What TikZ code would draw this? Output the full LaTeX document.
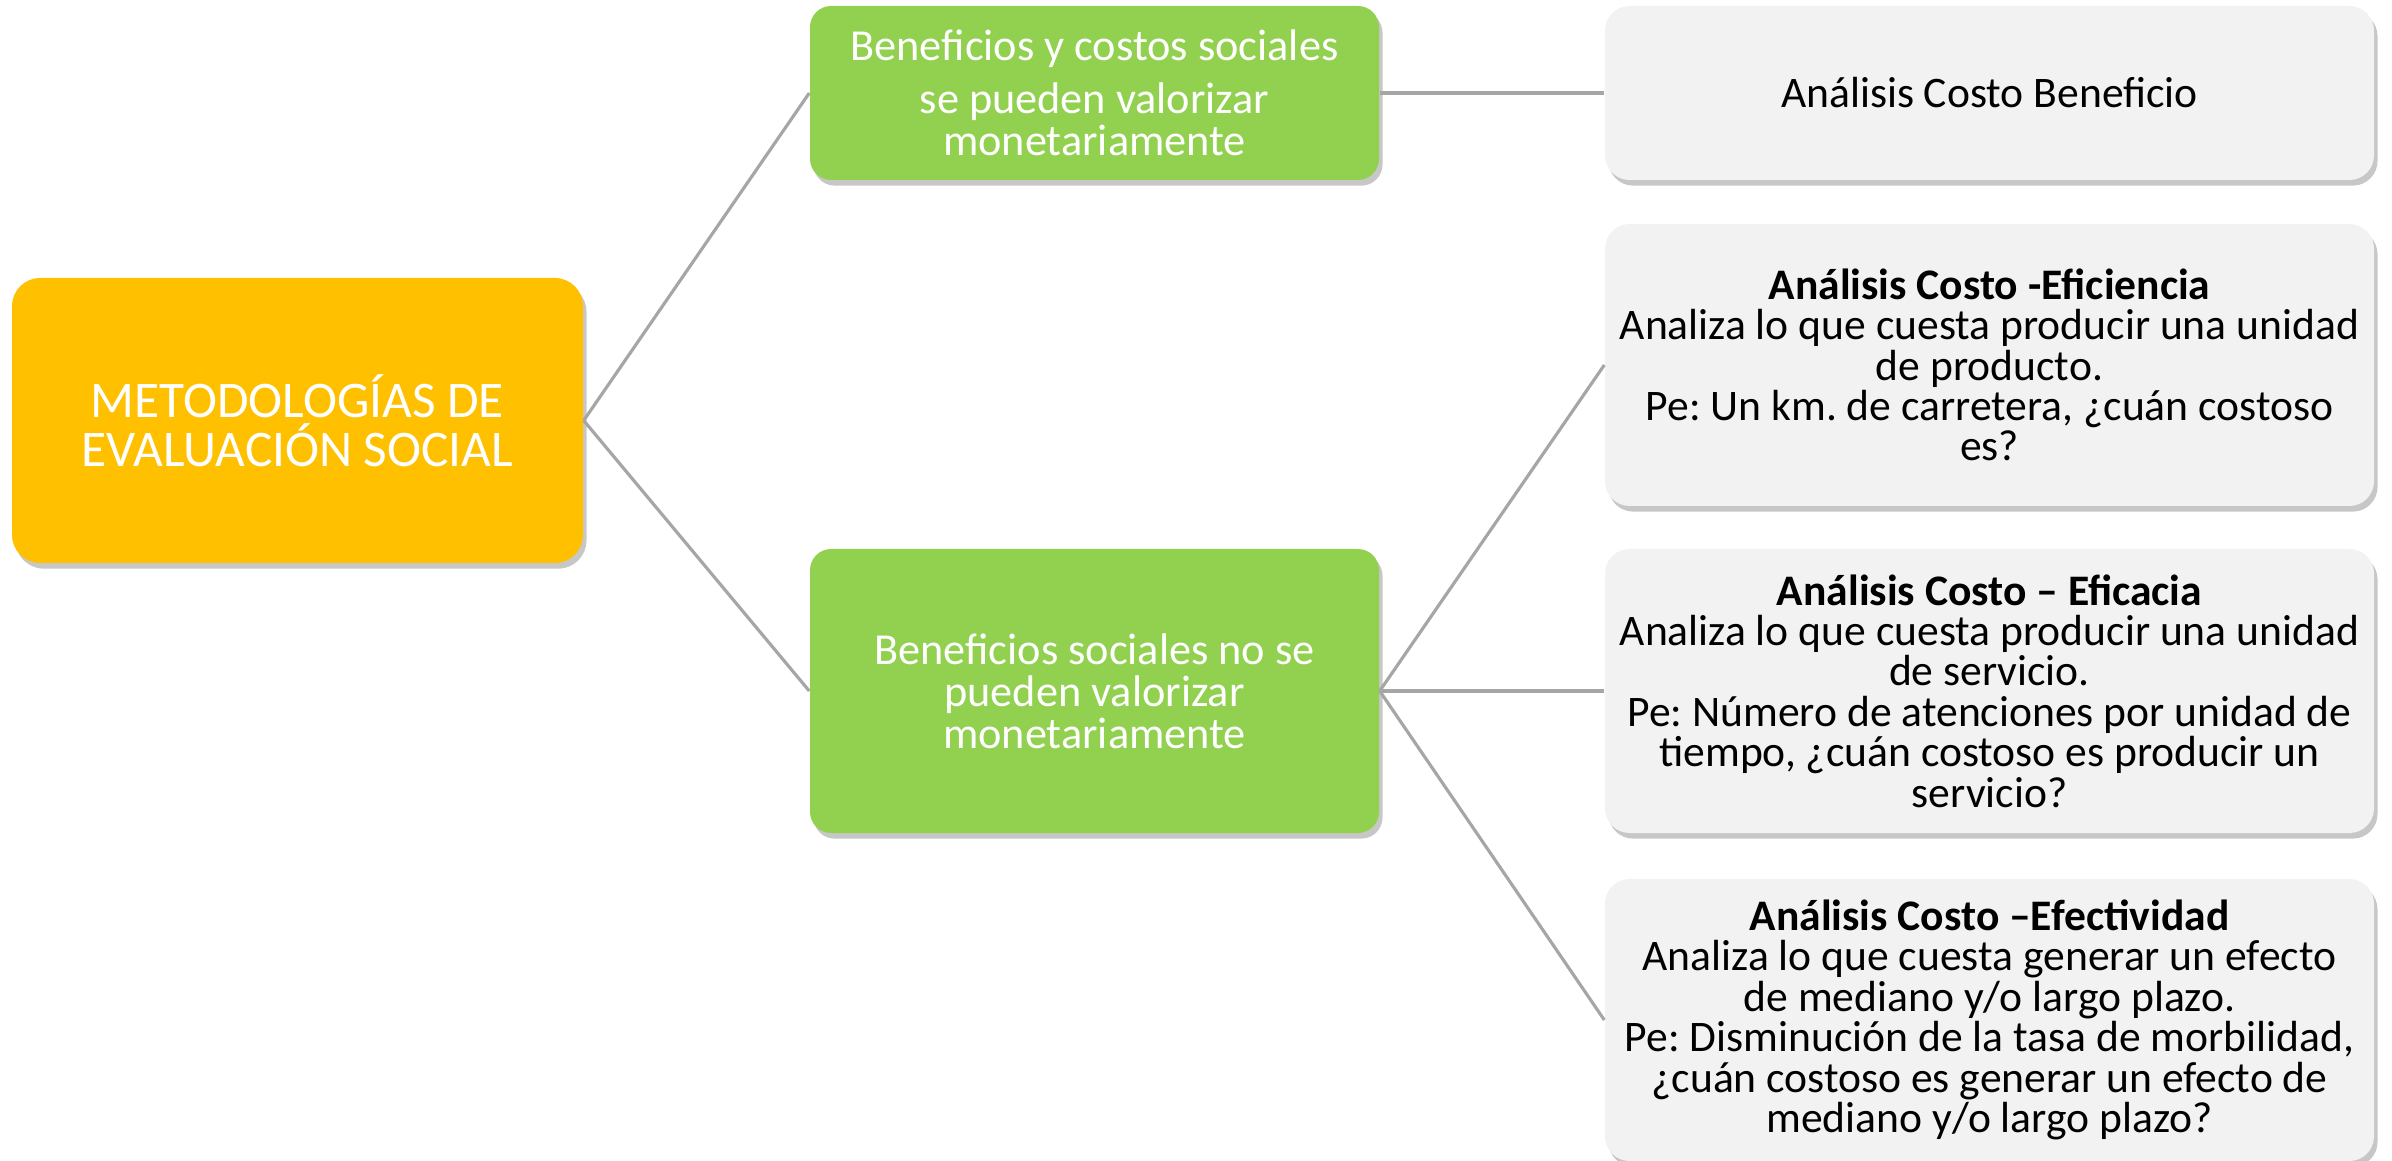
\documentclass[tikz,border=0pt]{standalone}
\usepackage{fontspec}
\setmainfont{Carlito}
\frenchspacing
\usetikzlibrary{shadows}
\definecolor{rootgold}{HTML}{FFC000}
\definecolor{leafgreen}{HTML}{92D050}
\definecolor{boxgray}{HTML}{F2F2F2}
\definecolor{linegray}{HTML}{A6A6A6}
\tikzset{
basenode/.style={
  align=center,
  inner sep=0pt,
  drop shadow={shadow xshift=1pt, shadow yshift=-1.6pt, fill=black, opacity=0.22}
},
rootnode/.style={
  basenode,
  fill=rootgold,
  text=white,
  rounded corners=8pt,
  font=\fontsize{14.6}{14}\selectfont,
  minimum width=5.71cm,
  minimum height=2.85cm
},
critnode/.style={
  basenode,
  fill=leafgreen,
  text=white,
  rounded corners=6pt,
  font=\fontsize{12.6}{12}\selectfont,
  minimum width=5.69cm
},
methodnode/.style={
  basenode,
  fill=boxgray,
  text=black,
  rounded corners=7pt,
  font=\fontsize{12.4}{11.5}\selectfont,
  minimum width=7.69cm,
  minimum height=2.82cm
},
treeline/.style={
  draw=linegray,
  line width=0.9pt
}
}

\begin{document}
\begin{tikzpicture}

\useasboundingbox (0,0) rectangle (23.92,-11.61);

\node[rootnode] (root) at (2.975,-4.205) {METODOLOGÍAS DE\\EVALUACIÓN SOCIAL};

\node[critnode, minimum height=1.74cm] (money) at (10.945,-0.93) {Beneficios y costos sociales\\[3pt]se pueden valorizar\\monetariamente};
\node[critnode, minimum height=2.84cm] (nomoney) at (10.945,-6.91) {Beneficios sociales no se\\pueden valorizar\\monetariamente};

\node[methodnode, minimum height=1.74cm] (acb) at (19.895,-0.93) {Análisis Costo Beneficio};
\node[methodnode] (acef) at (19.895,-3.65) {\textbf{Análisis Costo -Eficiencia}\\Analiza lo que cuesta producir una unidad\\de producto.\\Pe: Un km. de carretera, ¿cuán costoso\\es?};
\node[methodnode, minimum height=2.84cm] (acec) at (19.895,-6.91) {\textbf{Análisis Costo – Eficacia}\\Analiza lo que cuesta producir una unidad\\de servicio.\\Pe: Número de atenciones por unidad de\\tiempo, ¿cuán costoso es producir un\\servicio?};
\node[methodnode] (acet) at (19.895,-10.20) {\textbf{Análisis Costo –Efectividad}\\Analiza lo que cuesta generar un efecto\\de mediano y/o largo plazo.\\Pe: Disminución de la tasa de morbilidad,\\¿cuán costoso es generar un efecto de\\mediano y/o largo plazo?};

\draw[treeline] (root.east) -- (money.west);
\draw[treeline] (root.east) -- (nomoney.west);
\draw[treeline] (money.east) -- (acb.west);
\draw[treeline] (nomoney.east) -- (acef.west);
\draw[treeline] (nomoney.east) -- (acec.west);
\draw[treeline] (nomoney.east) -- (acet.west);

\end{tikzpicture}
\end{document}
